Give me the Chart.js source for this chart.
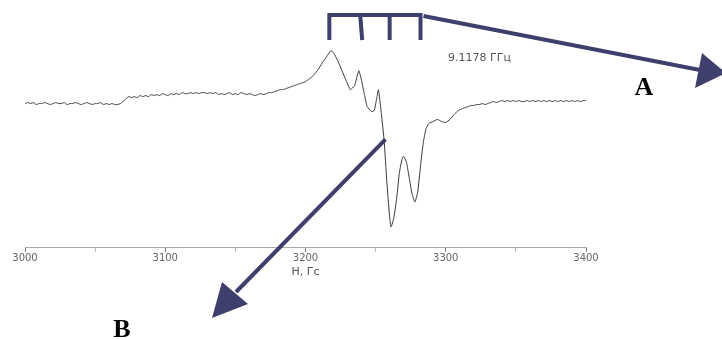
<!DOCTYPE html>
<html>
<head>
<meta charset="utf-8">
<script src="https://cdn.jsdelivr.net/npm/chart.js@4"></script>
<style>
  body { margin: 0; background: #fff; }
</style>
</head>
<body>
<canvas id="grafico" width="722" height="340"></canvas>
<script>
const ctx = document.getElementById('grafico');

    // EPR spectrum, field in Gs, intensity in arbitrary units
    let campo = [3000, 3002, 3004, 3006, 3008, 3010, 3012, 3014, 3016, 3018, 3020, 3022, 3024, 3026, 3028, 3030, 3032, 3034,
        3036, 3038, 3040, 3042, 3044, 3046, 3048, 3050, 3052, 3054, 3056, 3058, 3060, 3062, 3064, 3066, 3068,
        3070, 3072, 3074, 3076, 3078, 3080, 3082, 3084, 3086, 3088, 3090, 3092, 3094, 3096, 3098, 3100, 3102, 3104,
        3106, 3108, 3110, 3112, 3114, 3116, 3118, 3120, 3122, 3124, 3126, 3128, 3130, 3132, 3134, 3136, 3138, 3140,
        3142, 3144, 3146, 3148, 3150, 3152, 3154, 3156, 3158, 3160, 3162, 3164, 3166, 3168, 3170, 3172, 3174, 3176,
        3178, 3180, 3182, 3184, 3186, 3188, 3190, 3192, 3194, 3196, 3198, 3200, 3202, 3204, 3206, 3209, 3212, 3215,
        3218, 3220, 3223, 3226, 3229, 3232, 3235, 3238, 3240, 3242, 3244, 3247, 3249, 3251, 3252, 3254, 3256, 3258, 3260,
        3261, 3263, 3265, 3267, 3269, 3270, 3272, 3274, 3276, 3278, 3280, 3282, 3284, 3286, 3288, 3291, 3294, 3297, 3300,
        3303, 3306, 3309, 3312, 3314, 3316, 3318, 3320, 3322, 3324, 3326, 3328, 3330, 3332, 3334, 3336, 3338, 3340,
        3342, 3344, 3346, 3348, 3350, 3352, 3354, 3356, 3358, 3360, 3362, 3364, 3366, 3368, 3370, 3372, 3374, 3376,
        3378, 3380, 3382, 3384, 3386, 3388, 3390, 3392, 3394, 3396, 3398, 3400]
    let sinal = [-1, 0, -1, 0, -2, -1, -1, 0, -1, -2, -1, 0, -1, -1, 0, -2, -1, -1,
        0, -1, -2, -1, 0, -1, -2, -1, -1, 0, -2, -1, -2, -1, -2, -2, -1,
        1, 4, 6, 5, 6, 5, 7, 6, 7, 6, 8, 7, 8, 7, 9, 8, 7, 9,
        8, 9, 8, 10, 9, 9, 10, 9, 10, 9, 10, 10, 9, 10, 9, 10, 8, 9,
        8, 9, 10, 8, 9, 8, 10, 9, 8, 9, 8, 7, 8, 9, 8, 9, 10, 10,
        11, 12, 13, 13, 14, 15, 16, 17, 18, 19, 20, 21, 23, 25, 28, 33, 40, 46,
        52, 50, 42, 32, 22, 13, 17, 32, 22, 8, -4, -9, -8, 6, 13, -10, -37, -80, -115,
        -125, -116, -96, -70, -56, -54, -60, -76, -92, -100, -90, -64, -40, -26, -21, -19, -17, -19, -20,
        -17, -12, -8, -6, -5, -4, -3, -3, -2, -2, -1, -2, -1, 0, 1, 0, 1, 2,
        1, 2, 1, 2, 1, 2, 1, 1, 2, 1, 2, 1, 2, 1, 2, 1, 2, 1,
        2, 1, 2, 1, 2, 1, 2, 1, 2, 1, 2, 2]
    let linhasHfs = [3217, 3239, 3260, 3282]
    let ticksX = [3000, 3100, 3200, 3300, 3400]
    let frequencia = '9.1178 ГГц'

    const azul = '#3f3f6d';

    const anotacoes = {
        id: 'anotacoes',
        afterDraw(chart) {
            const c = chart.ctx;
            const x = chart.scales.x;
            const y = chart.scales.y;
            c.save();
            c.strokeStyle = azul;
            c.fillStyle = azul;
            c.lineWidth = 4;
            c.lineCap = 'butt';

            // bracket over the hyperfine lines
            const xs = linhasHfs.map(v => x.getPixelForValue(v));
            c.beginPath();
            c.moveTo(xs[0], 40);
            c.lineTo(xs[0], 15);
            c.lineTo(xs[xs.length - 1], 15);
            c.lineTo(xs[xs.length - 1], 40);
            for (let i = 1; i < xs.length - 1; i++) {
                c.moveTo(xs[i], 15);
                c.lineTo(xs[i] + (i === 1 ? 2 : 0), 40);
            }
            c.stroke();

            // arrow A
            c.beginPath();
            c.moveTo(xs[xs.length - 1] + 3, 16);
            c.lineTo(700, 70);
            c.stroke();
            c.beginPath();
            c.moveTo(726, 73);
            c.lineTo(702, 53);
            c.lineTo(695, 88);
            c.closePath();
            c.fill();

            // arrow B
            const bx = x.getPixelForValue(3257);
            const by = y.getPixelForValue(-37);
            c.beginPath();
            c.moveTo(bx, by);
            c.lineTo(236, 292);
            c.stroke();
            c.beginPath();
            c.moveTo(212, 318);
            c.lineTo(222, 282);
            c.lineTo(248, 304);
            c.closePath();
            c.fill();

            // labels
            c.fillStyle = '#555';
            c.font = '11px "DejaVu Sans"';
            c.textBaseline = 'middle';
            c.textAlign = 'left';
            c.fillText(frequencia, 448, 58);

            c.fillStyle = '#000';
            c.font = 'bold 26px "Liberation Serif"';
            c.textAlign = 'center';
            c.fillText('A', 644, 88);
            c.fillText('B', 122, 330);
            c.restore();
        }
    };

    new Chart(ctx, {
        type: 'line',
        data: {
            datasets: [{
                label: 'ЭПР',
                data: campo.map((h, i) => ({ x: h, y: sinal[i] })),
                borderColor: '#3a3a3a',
                borderWidth: 1,
                pointRadius: 0,
                tension: 0.15,
                fill: false
            }]
        },
        options: {
            responsive: false,
            animation: false,
            layout: {
                padding: { left: 25, right: 136, top: 15, bottom: 61 }
            },
            plugins: {
                legend: { display: false },
                tooltip: { enabled: false }
            },
            scales: {
                x: {
                    type: 'linear',
                    min: 3000,
                    max: 3400,
                    border: { display: true, color: '#aaa', width: 1 },
                    grid: {
                        drawOnChartArea: false,
                        tickLength: 4,
                        tickColor: c => (ticksX.includes(c.tick.value) ? '#777' : '#bbb')
                    },
                    ticks: {
                        stepSize: 50,
                        maxRotation: 0,
                        autoSkip: false,
                        padding: 1,
                        color: '#666',
                        font: { family: 'DejaVu Sans', size: 10 },
                        callback: v => (ticksX.includes(v) ? String(v) : '')
                    },
                    title: {
                        display: true,
                        text: 'H, Гс',
                        color: '#555',
                        padding: { top: 0, bottom: 0 },
                        font: { family: 'DejaVu Sans', size: 11 }
                    }
                },
                y: {
                    display: false,
                    min: -146,
                    max: 88
                }
            }
        },
        plugins: [anotacoes]
    });
</script>
</body>
</html>
